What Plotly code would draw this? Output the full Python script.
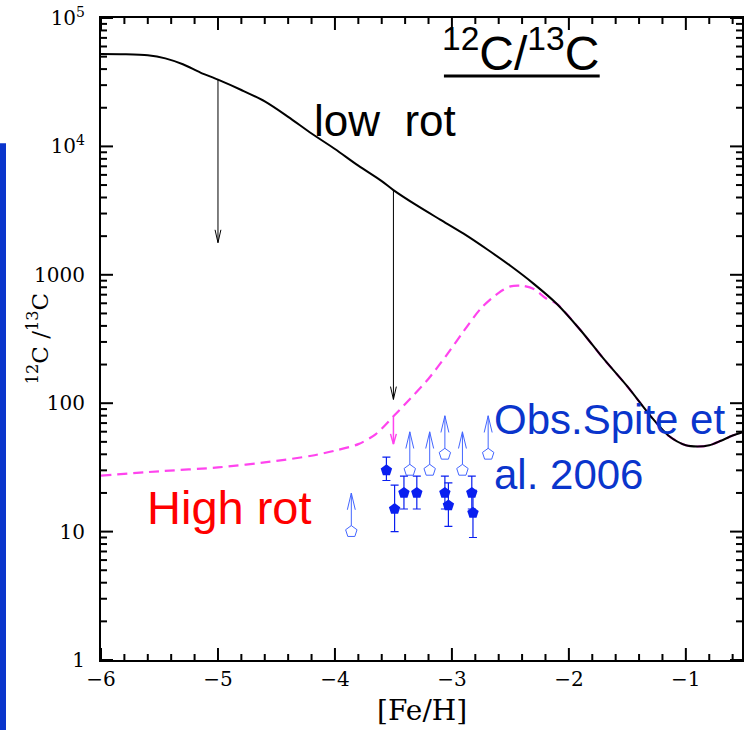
import numpy as np
import plotly.graph_objects as go

# Chemical-evolution tracks of 12C/13C versus [Fe/H]
feh_low = [-6.0, -5.8, -5.6, -5.45, -5.3, -5.15, -5.0, -4.8, -4.6, -4.4, -4.2, -4.0,
           -3.8, -3.6, -3.5, -3.3, -3.1, -2.9, -2.7, -2.5, -2.3, -2.1, -1.9, -1.7,
           -1.5, -1.3, -1.15, -1.0, -0.9, -0.8, -0.7, -0.6, -0.5]
ratio_low = [52500, 52300, 51300, 48500, 43600, 37600, 33100, 27500, 22400, 17000,
             12600, 9550, 7080, 5370, 4570, 3470, 2690, 2090, 1580, 1175, 850, 590,
             370, 220, 135, 79, 56, 47, 46, 47, 51, 56, 60]

feh_high = [-6.0, -5.5, -5.0, -4.5, -4.2, -4.0, -3.8, -3.65, -3.5, -3.35, -3.2, -3.05,
            -2.9, -2.75, -2.6, -2.5, -2.4, -2.3, -2.2, -2.1, -1.9, -1.7, -1.5, -1.3,
            -1.15, -1.0, -0.9, -0.8, -0.7, -0.6, -0.5]
ratio_high = [27.3, 29.5, 31.6, 35.5, 39, 42.7, 48, 57.5, 79, 110, 155, 234,
              363, 550, 724, 813, 822, 776, 660, 590, 370, 220, 135, 79,
              56, 47, 46, 47, 51, 56, 60]

# Arrows from the low-rotation track and from the high-rotation track
low_arrow_feh = [-5.0, -3.5]
low_arrow_to = [1780, 107]
high_arrow_feh = [-3.5]
high_arrow_to = [48]

# Spite et al. 2006: measured ratios with errors
feh_obs = [-3.56, -3.49, -3.41, -3.30, -3.06, -3.03, -2.83, -2.82]
ratio_obs = [30, 15, 20, 20, 20, 16, 20, 14]
err_up = [8, 8, 7, 7, 7, 8, 7, 7]
err_dn = [5, 5, 5, 5, 5, 5, 5, 5]

# Spite et al. 2006: lower limits
feh_lim = [-3.86, -3.36, -3.19, -3.06, -2.91, -2.69]
ratio_lim = [10, 30, 30, 40, 30, 40]

y_tickvals = [1, 10, 100, 1000, 1e4, 1e5]
y_ticktext = ["1", "10", "100", "1000", "10<sup>4</sup>", "10<sup>5</sup>"]
x_tickvals = [-6, -5, -4, -3, -2, -1]
x_range = [-6, -0.52]
y_range_log = [0, 5]

AXIS_FONT = "DejaVu Serif"
TEXT_FONT = "Liberation Sans"

WIDTH, HEIGHT = 744, 730
MARGIN = dict(l=101, r=2, t=18, b=70)
PLOT_W = WIDTH - MARGIN["l"] - MARGIN["r"]
PLOT_H = HEIGHT - MARGIN["t"] - MARGIN["b"]


def arrow_paths(xs, y_from, y_to, half_w, head_dex):
    """Shaft plus open V head for each arrow on a log y axis."""
    px, py = [], []
    for x0, y0, y1 in zip(xs, y_from, y_to):
        ly1 = np.log10(y1)
        s = 1.0 if y1 > y0 else -1.0
        back = 10 ** (ly1 - s * head_dex)
        px += [x0, x0, None, x0 - half_w, x0, x0 + half_w, None]
        py += [y0, y1, None, back, y1, back, None]
    return px, py


def track_value(x, fx, fy):
    return 10 ** np.interp(x, fx, np.log10(fy))


def frame_ticks(x_major, x_minor, y_major, y_minor, major_px=12, minor_px=6):
    """Inward tick marks on all four sides of the frame."""
    dx_per_px = (x_range[1] - x_range[0]) / PLOT_W
    dl_per_px = (y_range_log[1] - y_range_log[0]) / PLOT_H
    y_lo, y_hi = 10 ** y_range_log[0], 10 ** y_range_log[1]
    px, py = [], []
    for vals, ln in ((x_major, major_px), (x_minor, minor_px)):
        d = ln * dl_per_px
        for v in vals:
            px += [v, v, None, v, v, None]
            py += [y_lo, 10 ** (y_range_log[0] + d), None,
                   y_hi, 10 ** (y_range_log[1] - d), None]
    for vals, ln in ((y_major, major_px), (y_minor, minor_px)):
        d = ln * dx_per_px
        for v in vals:
            px += [x_range[0], x_range[0] + d, None, x_range[1], x_range[1] - d, None]
            py += [v, v, None, v, v, None]
    return px, py


fig = go.Figure()

# High-rotation track (dashed magenta)
fig.add_trace(go.Scatter(
    x=feh_high, y=ratio_high, mode="lines",
    line=dict(color="#ff44ee", width=2.2, dash="10px,6px", shape="spline", smoothing=0.8),
    hoverinfo="skip"))

# Low-rotation track (solid black)
fig.add_trace(go.Scatter(
    x=feh_low, y=ratio_low, mode="lines",
    line=dict(color="black", width=2, shape="spline", smoothing=0.8),
    hoverinfo="skip"))

# Arrows from the tracks
ax_, ay_ = arrow_paths(low_arrow_feh,
                       [track_value(x, feh_low, ratio_low) for x in low_arrow_feh],
                       low_arrow_to, 0.025, 0.1)
fig.add_trace(go.Scatter(x=ax_, y=ay_, mode="lines",
                         line=dict(color="black", width=1), hoverinfo="skip"))
hx, hy = arrow_paths(high_arrow_feh,
                     [track_value(x, feh_high, ratio_high) for x in high_arrow_feh],
                     high_arrow_to, 0.025, 0.08)
fig.add_trace(go.Scatter(x=hx, y=hy, mode="lines",
                         line=dict(color="#ff44ee", width=1.5), hoverinfo="skip"))

# Lower-limit arrows
lim_len_dex = 0.3
lx, ly = arrow_paths(feh_lim, ratio_lim,
                     [r * 10 ** lim_len_dex for r in ratio_lim], 0.034, 0.13)
fig.add_trace(go.Scatter(x=lx, y=ly, mode="lines",
                         line=dict(color="#4466ff", width=1), hoverinfo="skip"))
fig.add_trace(go.Scatter(
    x=feh_lim, y=ratio_lim, mode="markers",
    marker=dict(symbol="pentagon", size=12, color="white",
                line=dict(color="#4466ff", width=1)),
    hoverinfo="skip"))

# Measured ratios
fig.add_trace(go.Scatter(
    x=feh_obs, y=ratio_obs, mode="markers",
    marker=dict(symbol="pentagon", size=12, color="#0a1ff0"),
    error_y=dict(type="data", symmetric=False, array=err_up, arrayminus=err_dn,
                 color="#0a1ff0", thickness=1.2, width=4),
    hoverinfo="skip"))

# Inward frame ticks: majors at the labelled values, minors at 0.2 dex / 2..9 steps
x_minor = [round(v, 1) for v in np.arange(-6.0, -0.5, 0.2) if abs(v - round(v)) > 1e-6]
y_minor = [m * 10 ** d for d in range(0, 5) for m in range(2, 10)]
tx, ty = frame_ticks(x_tickvals, x_minor, y_tickvals, y_minor)
fig.add_trace(go.Scatter(x=tx, y=ty, mode="lines",
                         line=dict(color="black", width=2), hoverinfo="skip"))

xaxis = dict(
    range=x_range, tickmode="array", tickvals=x_tickvals,
    showline=True, linecolor="black", linewidth=2, mirror=True,
    ticks="", ticklabelstandoff=0,
    showgrid=False, zeroline=False,
    tickfont=dict(family=AXIS_FONT, size=20, color="black"),
)
yaxis = dict(
    type="log", range=y_range_log, tickmode="array", tickvals=y_tickvals,
    ticktext=y_ticktext,
    showline=True, linecolor="black", linewidth=2, mirror=True,
    ticks="", ticklabelstandoff=10,
    showgrid=False, zeroline=False,
    tickfont=dict(family=AXIS_FONT, size=20, color="black"),
)

annotations = [
    dict(text="<sup>12</sup>C/<sup>13</sup>C", x=0.655, y=0.95, xref="paper", yref="paper",
         xanchor="center", yanchor="middle", showarrow=False,
         font=dict(family=TEXT_FONT, size=48, color="black")),
    dict(text="low  rot", x=0.329, y=0.84, xref="paper", yref="paper",
         xanchor="left", yanchor="middle", showarrow=False,
         font=dict(family=TEXT_FONT, size=44, color="black")),
    dict(text="High rot", x=0.069, y=0.238, xref="paper", yref="paper",
         xanchor="left", yanchor="middle", showarrow=False,
         font=dict(family=TEXT_FONT, size=47, color="#ff0000")),
    dict(text="Obs.Spite et<br>al. 2006", x=0.61, y=0.331, xref="paper", yref="paper",
         xanchor="left", yanchor="middle", align="left", showarrow=False,
         font=dict(family=TEXT_FONT, size=42, color="#0a35cc")),
    dict(text="<sup>12</sup>C /<sup>13</sup>C", x=-0.098, y=0.5, xref="paper", yref="paper",
         xanchor="center", yanchor="middle", textangle=-90, showarrow=False,
         font=dict(family=AXIS_FONT, size=23, color="black")),
    dict(text="[Fe/H]", x=0.5, y=-0.079, xref="paper", yref="paper",
         xanchor="center", yanchor="middle", showarrow=False,
         font=dict(family=AXIS_FONT, size=28, color="black")),
]

shapes = [
    # underline of the ratio label
    dict(type="line", xref="paper", yref="paper", x0=0.535, x1=0.778, y0=0.9097, y1=0.9097,
         line=dict(color="black", width=3)),
    # slide-edge bar on the left
    dict(type="rect", xref="paper", yref="paper", x0=-0.1576, x1=-0.1482, y0=-0.11, y1=0.805,
         line=dict(width=0), fillcolor="#0a35cc"),
]

fig.update_layout(
    template="none",
    width=WIDTH, height=HEIGHT,
    margin=MARGIN,
    paper_bgcolor="white", plot_bgcolor="white",
    showlegend=False,
    xaxis=xaxis, yaxis=yaxis,
    annotations=annotations, shapes=shapes,
)

fig.write_html("out.html")
